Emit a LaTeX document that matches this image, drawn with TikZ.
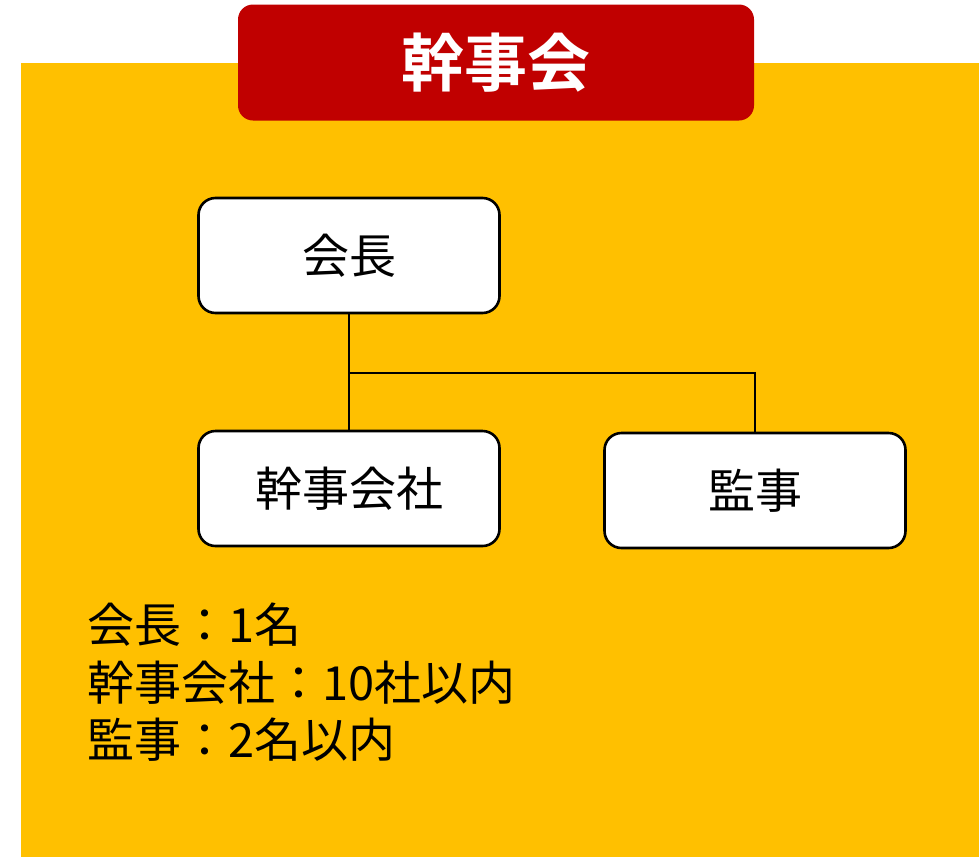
\documentclass[tikz,border=0pt]{standalone}
\usepackage{fontspec}
\setmainfont{Noto Sans CJK JP}
\newfontfamily\jpbold{Noto Sans CJK JP Bold}
\definecolor{bgorange}{HTML}{FFC000}
\definecolor{titlered}{HTML}{C00000}
\tikzset{
  rolebox/.style={draw=black, line width=2.6pt, fill=white, rounded corners=17pt,
    minimum width=301pt, minimum height=115pt, inner sep=0pt, font=\fontsize{47}{52}\selectfont},
  conn/.style={draw=black, line width=1.4pt}
}
\begin{document}
\begin{tikzpicture}[x=1pt,y=-1pt]
\useasboundingbox (0,0) rectangle (979,857);
\fill[bgorange] (21,63) rectangle (979,857);
\node[fill=titlered, rounded corners=15pt, minimum width=516pt, minimum height=116pt, inner sep=0pt,
  text=white, font=\jpbold\fontsize{63}{68}\selectfont] (title) at (496,62.5) {幹事会};
\node[rolebox] (chair) at (349,255.5) {会長};
\node[rolebox] (firms) at (349,488.5) {幹事会社};
\node[rolebox] (audit) at (755,490.5) {監事};
\coordinate (j) at (349,373);
\draw[conn] (chair.south) -- (firms.north);
\draw[conn] (j) -| (audit.north);
\node[anchor=north west, align=left, inner sep=0pt, font=\fontsize{47}{57.5}\selectfont] (list) at (87,603)
  {会長：1名\\幹事会社：10社以内\\監事：2名以内};
\end{tikzpicture}
\end{document}
